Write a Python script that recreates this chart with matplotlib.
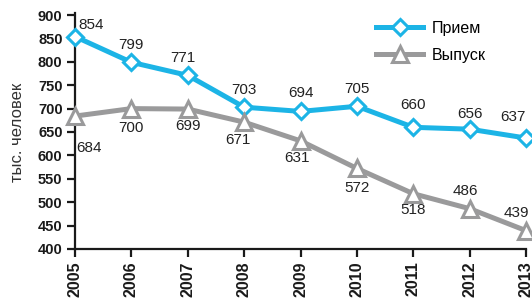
import matplotlib.pyplot as plt

years = [2005, 2006, 2007, 2008, 2009, 2010, 2011, 2012, 2013]
priem = [854, 799, 771, 703, 694, 705, 660, 656, 637]
vypusk = [684, 700, 699, 671, 631, 572, 518, 486, 439]

# label offsets in pixels (dx, dy)
priem_off = [(16, 12), (0, 17), (-5, 17), (0, 17), (0, 18), (0, 17), (0, 22), (0, 15), (-13, 21)]
vypusk_off = [(14, -32), (0, -19), (0, -17), (-6, -18), (-4, -17), (0, -20), (0, -16), (-4, 18), (-10, 18)]

plt.rcParams['font.family'] = ['Liberation Sans', 'DejaVu Sans']

blue = '#1cb4e6'
gray = '#9a9a9b'

fig = plt.figure(figsize=(5.32, 3.01), dpi=100)
ax = fig.add_axes([0.141, 0.173, 0.848, 0.777])

ax.plot(years, priem, color=blue, lw=3.6, marker='D', ms=8.5, mfc='white',
        mec=blue, mew=2.2, label='Прием', zorder=3)
ax.plot(years, vypusk, color=gray, lw=3.6, marker='^', ms=11, mfc='white',
        mec=gray, mew=2.2, label='Выпуск', zorder=3)

for x, y, (dx, dy) in zip(years, priem, priem_off):
    ax.annotate(str(y), (x, y), xytext=(dx, dy), textcoords='offset pixels',
                ha='center', va='center', fontsize=11, color='#222222')
for x, y, (dx, dy) in zip(years, vypusk, vypusk_off):
    ax.annotate(str(y), (x, y), xytext=(dx, dy), textcoords='offset pixels',
                ha='center', va='center', fontsize=11, color='#222222')

ax.set_xlim(2005, 2013)
ax.set_ylim(400, 900)
ax.set_yticks(range(400, 901, 50))
ax.set_xticks(years)
ax.set_xticklabels([str(y) for y in years], rotation=90, fontweight='bold', fontsize=11.5)
for t in ax.get_yticklabels():
    t.set_fontweight('bold')
    t.set_fontsize(10.5)

for s in ['top', 'right']:
    ax.spines[s].set_visible(False)
for s in ['left', 'bottom']:
    ax.spines[s].set_linewidth(1.6)
    ax.spines[s].set_color('#1a1a1a')
ax.spines['left'].set_bounds(400, 905)
ax.tick_params(axis='both', direction='out', length=6, width=1.6, colors='#1a1a1a', pad=3)
for line in ax.lines:
    line.set_clip_on(False)

ax.set_ylabel('тыс. человек', fontsize=12, color='#333333', labelpad=9)

ax.legend(loc='upper left', bbox_to_anchor=(0.668, 0.975), frameon=False, fontsize=11.5,
          handlelength=2.9, handletextpad=0.55, labelspacing=0.75, borderpad=0,
          borderaxespad=0)

fig.savefig('out.png', dpi=100)
